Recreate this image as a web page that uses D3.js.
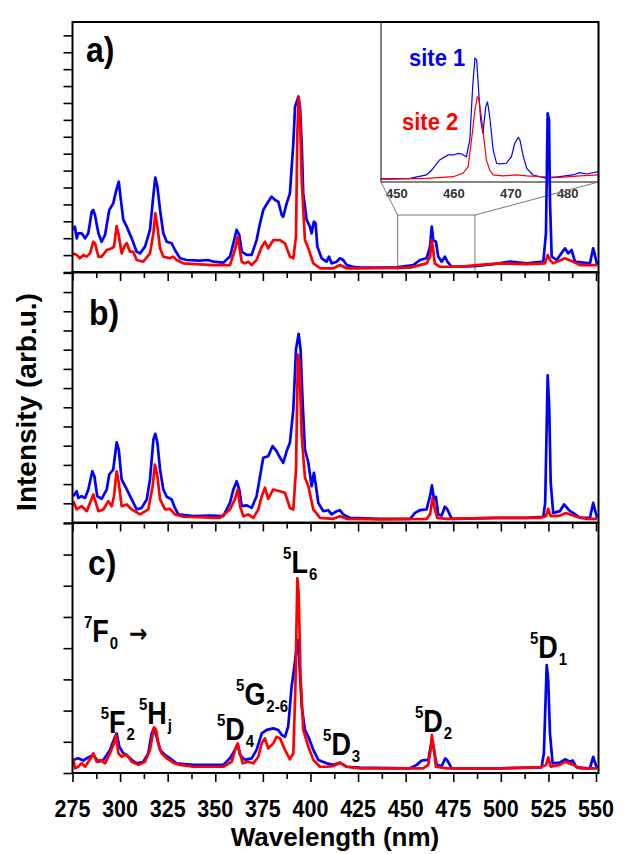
<!DOCTYPE html>
<html>
<head>
<meta charset="utf-8">
<script src="https://cdn.jsdelivr.net/npm/d3@7"></script>
<style>
body { margin: 0; background: #fff; }
text { font-family: "Liberation Sans", Arial, sans-serif; font-weight: bold; fill: #000; }
</style>
</head>
<body>
<svg id="chart" width="639" height="854"></svg>
<script>
// Spectra: [wavelength (nm), intensity (arb. units, one unit = one y tick)]
var blueA = [[275.4,2.49],[276.3,2.68],[277.2,1.99],[278.0,2.29],[279.8,2.29],[281.6,1.99],[283.3,2.29],[285.1,3.57],[285.9,3.67],[286.8,3.37],[288.6,2.29],[290.3,1.79],[292.1,2.19],[294.3,3.67],[296.4,4.06],[297.8,4.75],[299.3,5.34],[300.0,4.65],[301.7,3.08],[303.5,2.68],[306.1,1.99],[308.7,1.20],[310.5,1.10],[313.1,1.50],[315.7,2.49],[317.5,4.56],[318.5,5.58],[319.6,5.05],[321.0,3.67],[322.7,2.29],[324.5,1.79],[327.1,1.70],[328.8,1.30],[331.5,0.81],[335.0,0.71],[342.0,0.67],[346.3,0.71],[349.0,0.61],[354.2,0.55],[357.7,0.91],[359.5,1.70],[361.2,2.49],[362.6,2.19],[363.9,1.20],[366.5,1.01],[369.1,1.01],[371.7,1.89],[373.5,2.88],[375.2,3.67],[377.8,4.16],[379.6,4.46],[381.4,4.26],[383.1,4.16],[384.9,3.37],[385.7,3.27],[387.5,4.06],[389.2,4.65],[391.0,7.61],[391.9,9.78],[393.1,10.18],[393.6,10.37],[394.5,9.78],[395.4,7.61],[396.2,4.65],[398.0,3.08],[399.7,2.68],[400.6,2.29],[401.8,2.98],[402.7,2.88],[403.6,1.50],[405.9,0.81],[408.5,0.61],[409.7,0.91],[411.1,0.51],[413.8,0.61],[415.5,0.81],[417.2,0.71],[419.0,0.41],[422.5,0.31],[426.0,0.26],[445.3,0.28],[454.0,0.41],[457.5,0.71],[461.0,0.81],[462.8,1.50],[463.7,2.68],[464.5,1.89],[465.9,1.79],[467.1,0.91],[468.9,0.61],[470.6,0.91],[471.9,0.61],[474.2,0.31],[486.4,0.35],[496.0,0.47],[504.8,0.61],[513.6,0.51],[522.3,0.61],[523.7,2.29],[524.6,9.39],[525.3,8.99],[525.8,4.26],[526.7,0.91],[529.3,0.71],[533.7,1.40],[535.4,1.10],[537.2,1.30],[538.9,0.61],[546.8,0.51],[548.5,1.40],[549.4,1.01],[550.6,0.41]];
var redA = [[275.4,1.10],[277.2,1.01],[278.9,0.81],[280.7,1.01],[282.5,0.91],[284.2,1.10],[285.9,1.79],[286.8,1.70],[288.6,0.91],[290.3,0.91],[293.0,1.30],[295.6,1.40],[296.8,1.50],[298.2,2.72],[299.1,2.29],[300.8,1.10],[302.6,1.60],[303.5,1.70],[305.2,1.20],[306.9,1.20],[308.7,0.71],[312.2,0.61],[315.7,1.10],[317.5,2.29],[318.5,3.47],[319.6,2.68],[321.0,1.40],[322.7,0.91],[326.2,0.81],[327.9,0.91],[329.7,0.71],[333.2,0.51],[349.0,0.41],[357.7,0.41],[360.3,1.30],[361.8,2.09],[362.6,1.50],[363.9,0.61],[365.6,0.51],[367.3,0.61],[369.1,0.41],[371.7,0.71],[374.4,1.50],[376.1,1.79],[377.8,1.40],[380.5,1.89],[384.0,1.89],[386.6,1.70],[389.2,0.91],[391.0,0.81],[392.4,2.09],[393.1,8.21],[393.8,10.37],[394.5,9.39],[395.4,5.44],[397.1,1.89],[398.9,1.40],[401.5,0.51],[405.0,0.22],[412.0,0.22],[415.5,0.41],[419.0,0.22],[426.0,0.22],[452.3,0.26],[461.0,0.51],[462.8,0.91],[463.7,1.89],[464.5,1.30],[465.3,0.51],[468.0,0.31],[478.5,0.31],[487.3,0.41],[499.5,0.51],[513.6,0.47],[523.2,0.51],[524.6,1.01],[525.8,0.71],[527.5,0.51],[533.7,0.81],[538.0,0.61],[541.5,0.41],[550.6,0.41]];

var blueB = [[275.4,1.37],[277.2,1.63],[278.0,1.28],[279.8,1.37],[281.6,1.28],[283.3,1.72],[285.4,2.67],[286.5,2.41],[288.0,1.37],[290.3,1.23],[293.0,1.72],[294.3,2.50],[296.4,2.76],[298.2,4.18],[299.3,3.80],[300.8,2.24],[303.5,1.72],[306.1,1.20],[308.7,0.68],[311.3,0.76],[314.0,1.20],[315.7,2.24],[317.5,4.32],[318.5,4.62],[319.6,4.15],[321.0,2.76],[322.7,1.72],[324.5,1.34],[327.1,1.20],[328.8,0.76],[330.6,0.42],[338.5,0.33],[347.2,0.36],[354.2,0.33],[357.7,1.02],[359.5,1.72],[361.2,2.15],[362.6,1.72],[363.9,0.85],[366.5,0.89],[369.1,0.76],[371.7,1.37],[374.4,2.93],[375.2,3.37],[377.8,3.45],[380.1,3.98],[382.2,3.72],[384.0,3.37],[385.7,3.11],[387.5,3.72],[389.2,4.15],[391.0,5.89],[392.4,9.01],[393.8,9.83],[394.8,9.01],[395.9,6.23],[397.1,3.80],[398.9,3.11],[400.6,1.89],[401.8,2.59],[402.9,1.89],[404.1,1.02],[406.7,0.59],[409.3,0.64],[411.1,0.42],[413.8,0.59],[415.5,0.64],[417.2,0.42],[420.7,0.24],[436.5,0.19],[452.3,0.19],[454.9,0.50],[457.5,0.64],[461.0,0.68],[462.8,1.37],[463.8,1.93],[464.9,1.20],[465.9,1.34],[467.1,0.42],[468.9,0.36],[470.6,0.82],[471.9,0.68],[474.2,0.19],[499.5,0.24],[513.6,0.24],[522.3,0.30],[523.3,1.02],[524.6,7.66],[525.4,6.06],[526.2,2.07],[527.5,0.50],[531.0,0.59],[533.2,0.94],[536.3,0.59],[538.0,0.50],[541.5,0.24],[546.8,0.24],[548.5,1.02],[549.6,0.59],[550.6,0.24]];
var redB = [[275.4,1.11],[277.2,0.68],[279.8,0.85],[282.5,0.59],[284.2,1.02],[285.9,1.46],[287.3,1.02],[288.6,0.59],[291.2,0.68],[293.8,1.11],[295.6,0.85],[296.8,1.37],[298.2,2.67],[299.3,2.07],[300.8,0.85],[303.5,0.94],[306.1,0.68],[310.5,0.42],[314.8,0.68],[317.1,1.89],[318.3,3.02],[319.6,2.41],[321.0,1.20],[323.6,0.68],[326.2,0.71],[328.8,0.42],[333.2,0.30],[352.4,0.24],[357.7,0.68],[360.3,1.20],[361.8,1.72],[363.0,0.85],[364.7,0.33],[367.3,0.42],[370.0,0.24],[372.6,0.68],[374.4,1.37],[376.1,1.81],[377.8,1.23],[380.5,1.72],[384.0,1.63],[386.6,1.55],[389.2,0.76],[391.0,0.68],[392.4,2.76],[393.4,8.75],[394.1,8.49],[395.4,4.50],[397.1,2.33],[398.9,1.89],[401.5,0.68],[405.0,0.24],[412.0,0.19],[415.5,0.33],[419.0,0.19],[436.5,0.16],[461.0,0.19],[462.8,0.42],[464.2,1.28],[465.4,0.68],[466.6,0.24],[471.5,0.19],[496.0,0.24],[520.5,0.24],[523.7,0.33],[524.9,0.71],[526.2,0.33],[531.0,0.36],[534.2,0.50],[539.8,0.30],[545.1,0.19],[550.6,0.19]];

var blueC = [[275.4,0.42],[278.0,0.47],[280.7,0.40],[283.3,0.50],[285.9,0.58],[288.6,0.36],[291.2,0.42],[294.7,0.74],[297.3,1.16],[298.2,1.27],[299.6,0.84],[301.7,0.63],[303.5,0.58],[306.1,0.42],[308.7,0.31],[312.2,0.36],[314.8,0.63],[316.6,1.27],[317.8,1.43],[319.2,1.16],[321.0,0.74],[323.6,0.58],[326.2,0.47],[329.7,0.31],[338.5,0.26],[354.2,0.26],[357.7,0.47],[360.3,0.74],[361.8,0.90],[363.0,0.58],[365.6,0.42],[369.1,0.47],[371.7,0.74],[374.4,1.27],[377.0,1.38],[380.5,1.43],[383.1,1.38],[384.9,1.22],[386.6,1.16],[388.3,1.49],[390.1,2.77],[391.3,3.30],[392.4,3.84],[393.3,4.26],[394.1,3.62],[395.4,2.13],[397.1,1.38],[398.9,1.16],[401.5,0.74],[404.1,0.42],[408.5,0.31],[412.0,0.26],[415.5,0.33],[419.0,0.20],[426.0,0.17],[452.3,0.15],[455.8,0.26],[458.4,0.40],[461.9,0.42],[463.1,0.84],[463.8,1.06],[464.9,0.74],[466.3,0.26],[468.9,0.22],[470.8,0.47],[471.9,0.40],[474.2,0.15],[499.5,0.15],[521.4,0.18],[522.6,0.63],[524.1,3.46],[524.9,2.98],[525.8,1.27],[527.2,0.31],[531.0,0.33],[533.7,0.44],[536.3,0.36],[537.7,0.40],[539.8,0.18],[546.8,0.15],[548.5,0.52],[549.6,0.31],[550.6,0.15]];
var redC = [[275.4,0.47],[276.3,0.15],[278.0,0.20],[279.8,0.31],[281.6,0.20],[283.3,0.36],[285.1,0.52],[285.9,0.63],[287.7,0.36],[289.4,0.42],[292.1,0.31],[294.7,0.63],[296.8,0.95],[297.8,1.22],[299.1,0.63],[300.8,0.52],[302.6,0.58],[304.3,0.52],[306.1,0.36],[309.6,0.26],[313.1,0.36],[315.7,0.74],[317.8,1.46],[318.9,1.38],[320.1,0.95],[321.8,0.63],[324.5,0.47],[327.9,0.33],[331.5,0.26],[338.5,0.20],[354.2,0.20],[358.6,0.36],[360.9,0.84],[361.8,0.95],[363.0,0.63],[364.4,0.31],[367.3,0.36],[370.0,0.31],[372.6,0.52],[374.4,0.95],[376.1,1.11],[377.8,0.79],[380.5,0.95],[382.2,1.16],[384.0,1.11],[386.6,0.74],[389.2,0.44],[391.0,0.63],[392.1,2.77],[393.1,6.24],[393.8,5.76],[394.8,3.09],[396.2,1.38],[398.9,0.84],[401.5,0.42],[405.0,0.20],[408.5,0.20],[412.0,0.22],[415.5,0.33],[419.0,0.20],[426.0,0.15],[459.2,0.15],[461.9,0.26],[463.1,0.74],[463.8,1.22],[464.9,0.74],[465.9,0.20],[471.5,0.15],[499.5,0.15],[520.5,0.18],[523.7,0.26],[524.9,0.50],[526.2,0.20],[531.0,0.26],[533.7,0.36],[538.0,0.26],[541.5,0.15],[550.6,0.15]];

// inset (zoom of the 5D2 band, panel a)
var blueInset = [[447.1,0.19],[452.3,0.23],[455.2,0.44],[456.1,0.75],[457.5,1.38],[459.0,1.69],[459.9,1.69],[460.8,1.79],[461.4,1.75],[462.2,1.58],[462.8,2.63],[463.3,5.96],[463.7,7.73],[464.0,7.63],[464.3,5.96],[464.7,3.88],[465.1,3.04],[465.6,4.71],[465.9,5.02],[466.3,4.08],[466.9,2.00],[467.5,1.17],[468.1,1.13],[469.2,1.17],[470.1,1.58],[470.7,2.42],[471.3,2.79],[471.6,2.63],[472.2,1.58],[472.8,0.85],[473.9,0.44],[476.3,0.23],[478.6,0.33],[480.9,0.44],[482.1,0.58],[483.3,0.50],[484.4,0.58],[485.4,0.65]];
var redInset = [[447.1,0.17],[455.2,0.23],[459.9,0.33],[461.6,0.54],[462.5,0.96],[463.1,2.63],[463.7,4.50],[464.1,5.33],[464.4,5.13],[464.9,3.88],[465.3,2.63],[465.7,1.38],[466.3,0.75],[466.9,0.44],[468.6,0.38],[471.0,0.44],[472.8,0.38],[475.1,0.33],[478.6,0.29],[482.1,0.38],[485.4,0.44]];

var xTicks = [275, 300, 325, 350, 375, 400, 425, 450, 475, 500, 525, 550];
var insetTicks = [450, 460, 470, 480];
var panelLabels = ['a)', 'b)', 'c)'];
var siteLabels = ['site 1', 'site 2'];

// transitions 7F0 -> ... written in panel c: [wavelength, intensity, sup, main, sub]
var levels = [
	[289.8, 1.28, '5', 'F', '2'],
	[309.9, 1.57, '5', 'H', 'j'],
	[350.9, 1.06, '5', 'D', '4'],
	[360.9, 2.18, '5', 'G', '2-6'],
	[385.6, 6.41, '5', 'L', '6'],
	[406.6, 0.58, '5', 'D', '3'],
	[454.9, 1.31, '5', 'D', '2'],
	[515.3, 3.69, '5', 'D', '1']
];

var BLUE = '#0000ff', RED = '#ff0000';
var left = 72.5, right = 598.5, panelH = 250;
var panelTops = [22, 272.5, 523];
var panelMax = [14.79, 13.02, 8.01];
var stretch = 1.15;

var svg = d3.select('#chart');
var x = d3.scaleLinear().domain([275, 551.3]).range([left, right]);

var panels = [
	{ blue: blueA, red: redA },
	{ blue: blueB, red: redB },
	{ blue: blueC, red: redC }
];

var yScales = [];

// stretched bold text helper
function label(g, px, py, txt, size, sy, anchor) {
	return g.append('text')
		.attr('transform', 'translate(' + px + ',' + py + ') scale(1,' + sy + ')')
		.attr('font-size', size)
		.attr('text-anchor', anchor || 'start')
		.text(txt);
}

function thinTicks(s) {
	s.select('.domain').remove();
	s.selectAll('line').attr('stroke-width', 1.6);
}

for (var i = 0; i < panels.length; i++) {
	var pTop = panelTops[i];
	var y = d3.scaleLinear().domain([0, panelMax[i]]).range([pTop + panelH, pTop]);
	yScales.push(y);
	var g = svg.append('g').attr('class', 'panel' + i);

	// y ticks (outward, left)
	var yAxis = d3.axisLeft(y).tickValues(d3.range(0, Math.floor(panelMax[i]) + 1)).tickSize(9).tickFormat('');
	g.append('g').attr('transform', 'translate(' + left + ',0)').call(yAxis).call(thinTicks);

	// x ticks (outward, below), minor every 12.5 nm
	var minor = d3.range(287.5, 551, 25);
	g.append('g').attr('transform', 'translate(0,' + (pTop + panelH) + ')')
		.call(d3.axisBottom(x).tickValues(minor).tickSize(6).tickFormat('')).call(thinTicks);
	g.append('g').attr('transform', 'translate(0,' + (pTop + panelH) + ')')
		.call(d3.axisBottom(x).tickValues(xTicks).tickSize(9).tickFormat('')).call(thinTicks);
}

// inset in panel a
var inX = d3.scaleLinear().domain([447.2, 485.4]).range([381, 598.5]);
var inY = d3.scaleLinear().domain([0, 10]).range([182, 22]);
var zoomBand = [445.8, 486.4], zoomTop = 3.37;
var yA = yScales[0];

var inset = svg.append('g').attr('class', 'inset');
inset.append('rect').attr('x', 381).attr('y', 22).attr('width', 598.5 - 381).attr('height', 160)
	.attr('fill', '#fff').attr('stroke', '#333').attr('stroke-width', 1.2);
var inLine = d3.line().x(function(d) { return inX(d[0]); }).y(function(d) { return inY(d[1]); });
inset.append('path').datum(blueInset).attr('d', inLine).attr('fill', 'none').attr('stroke', BLUE).attr('stroke-width', 1.2);
inset.append('path').datum(redInset).attr('d', inLine).attr('fill', 'none').attr('stroke', RED).attr('stroke-width', 1.2);
inset.selectAll('.itick').data(insetTicks).enter().append('text')
	.attr('x', function(d) { return inX(d); }).attr('y', 198)
	.attr('text-anchor', 'middle').attr('font-size', 13).style('fill', '#333')
	.text(function(d) { return d; });
label(inset, 409, 66, siteLabels[0], 22, 1.1).style('fill', BLUE);
label(inset, 402, 130, siteLabels[1], 22, 1.1).style('fill', RED);

// zoom box and connectors
var zg = svg.append('g').attr('stroke', '#777').attr('stroke-width', 1).attr('fill', 'none');
zg.append('rect').attr('x', x(zoomBand[0])).attr('y', yA(zoomTop))
	.attr('width', x(zoomBand[1]) - x(zoomBand[0])).attr('height', yA(0) - yA(zoomTop));
zg.append('line').attr('x1', x(zoomBand[0])).attr('y1', yA(zoomTop)).attr('x2', 381).attr('y2', 182);
zg.append('line').attr('x1', x(zoomBand[1])).attr('y1', yA(zoomTop)).attr('x2', 598.5).attr('y2', 182);

// spectra
function makeLine(s) {
	return d3.line().x(function(d) { return x(d[0]); }).y(function(d) { return s(d[1]); });
}
for (var j = 0; j < panels.length; j++) {
	var clipId = 'clip' + j;
	svg.append('clipPath').attr('id', clipId).append('rect')
		.attr('x', left).attr('y', panelTops[j]).attr('width', right - left).attr('height', panelH);
	var spec = makeLine(yScales[j]);
	var sg = svg.append('g').attr('clip-path', 'url(#' + clipId + ')');
	sg.append('path').datum(panels[j].blue).attr('d', spec).attr('fill', 'none').attr('stroke', BLUE).attr('stroke-width', 2.7).attr('stroke-linejoin', 'round');
	sg.append('path').datum(panels[j].red).attr('d', spec).attr('fill', 'none').attr('stroke', RED).attr('stroke-width', 2.7).attr('stroke-linejoin', 'round');
}

// frames
for (var k = 0; k < panelTops.length; k++) {
	svg.append('rect').attr('x', left).attr('y', panelTops[k]).attr('width', right - left).attr('height', panelH)
		.attr('fill', 'none').attr('stroke', '#000').attr('stroke-width', 2);
}

// panel labels
var plx = [86, 89, 88], ply = [62, 325, 575];
for (var p = 0; p < panelLabels.length; p++) {
	label(svg, plx[p], ply[p], panelLabels[p], 32, 1.1);
}

// tick labels under panel c
var pBottom = panelTops[2] + panelH;
svg.selectAll('.xlab').data(xTicks).enter().append('text')
	.attr('transform', function(d) { return 'translate(' + x(d) + ',' + (pBottom + 44) + ') scale(1,1.1)'; })
	.attr('text-anchor', 'middle').attr('font-size', 21.5)
	.text(function(d) { return d; });

// axis titles
svg.append('text').attr('x', 335).attr('y', 846).attr('text-anchor', 'middle').attr('font-size', 26).text('Wavelength (nm)');
svg.append('text').attr('transform', 'translate(36,402) rotate(-90)').attr('text-anchor', 'middle').attr('font-size', 28).text('Intensity (arb.u.)');

// level annotations in panel c
var yC = yScales[2];
function levelText(px, py, sup, main, sub) {
	var t = svg.append('text')
		.attr('transform', 'translate(' + px + ',' + py + ') scale(1,' + stretch + ')');
	t.append('tspan').attr('font-size', 15).attr('dy', -12).text(sup);
	t.append('tspan').attr('font-size', 27).attr('dy', 12).text(main);
	t.append('tspan').attr('font-size', 15).attr('dy', 6).attr('dx', 1).text(sub);
	return t;
}
levels.forEach(function(d) {
	levelText(x(d[0]), yC(d[1]), d[2], d[3], d[4]);
});
var f0 = levelText(x(281.0), yC(4.20), '7', 'F', '0');
f0.append('tspan').attr('font-size', 22).attr('font-family', 'DejaVu Sans').attr('dy', -6).attr('dx', 11).text('\u2192');
</script>
</body>
</html>
